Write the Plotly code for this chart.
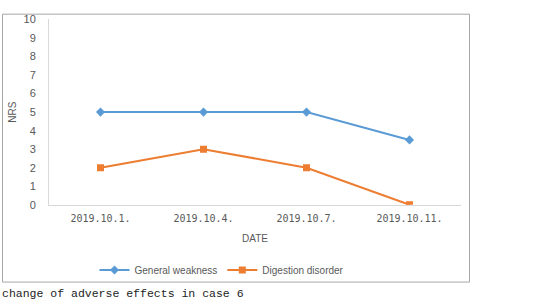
import plotly.graph_objects as go

dates = ["2019.10.1.", "2019.10.4.", "2019.10.7.", "2019.10.11."]
general_weakness = [5, 5, 5, 3.5]
digestion_disorder = [2, 3, 2, 0]
y_ticks = list(range(0, 11))

W, H = 559, 302
px_x = lambda v: v / W
px_y = lambda v: 1 - v / H

fig = go.Figure()
fig.add_trace(go.Scatter(
    x=dates, y=general_weakness, name="General weakness", mode="lines+markers",
    line=dict(color="#5B9BD5", width=2),
    marker=dict(symbol="diamond", size=7, color="#5B9BD5"),
))
fig.add_trace(go.Scatter(
    x=dates, y=digestion_disorder, name="Digestion disorder", mode="lines+markers",
    line=dict(color="#ED7D31", width=2),
    marker=dict(symbol="square", size=7, color="#ED7D31"),
))

fig.update_layout(
    width=W, height=H,
    margin=dict(l=0, r=0, t=0, b=0),
    paper_bgcolor="white", plot_bgcolor="white",
    font=dict(family="Liberation Sans, Arial", size=10, color="#595959"),
    xaxis=dict(
        domain=[px_x(49), px_x(461)],
        type="category", range=[-0.5, 3.5],
        showgrid=False, showline=True, linecolor="#d9d9d9", linewidth=1,
        ticks="", zeroline=False, ticklabelstandoff=4,
        tickfont=dict(family="DejaVu Sans Mono", size=10, color="#595959"),
        title=dict(text="DATE", font=dict(size=10, color="#595959"), standoff=12),
    ),
    yaxis=dict(
        domain=[px_y(207), px_y(14)],
        range=[0, 10], tickvals=y_ticks,
        showgrid=False, showline=True, linecolor="#d9d9d9", linewidth=1,
        ticks="", zeroline=False, ticklabelstandoff=10,
        tickfont=dict(size=11, color="#595959"),
        title=dict(text="NRS", font=dict(size=10, color="#595959"), standoff=5),
    ),
    legend=dict(
        orientation="h", x=px_x(222), xanchor="center",
        y=px_y(275), yanchor="middle",
        font=dict(size=10, color="#595959"),
        bgcolor="rgba(0,0,0,0)",
    ),
    showlegend=True,
)

fig.add_shape(type="rect", xref="paper", yref="paper",
              x0=px_x(2.5), x1=px_x(469.5), y0=px_y(287.5), y1=px_y(8.5),
              line=dict(color="#a6a6a6", width=1))

fig.add_annotation(
    text="change of adverse effects in case 6",
    xref="paper", yref="paper", x=0, xanchor="left",
    y=px_y(299), yanchor="middle", showarrow=False,
    font=dict(family="Liberation Mono", size=11.5, color="#222222"),
)

fig.write_html("out.html")
